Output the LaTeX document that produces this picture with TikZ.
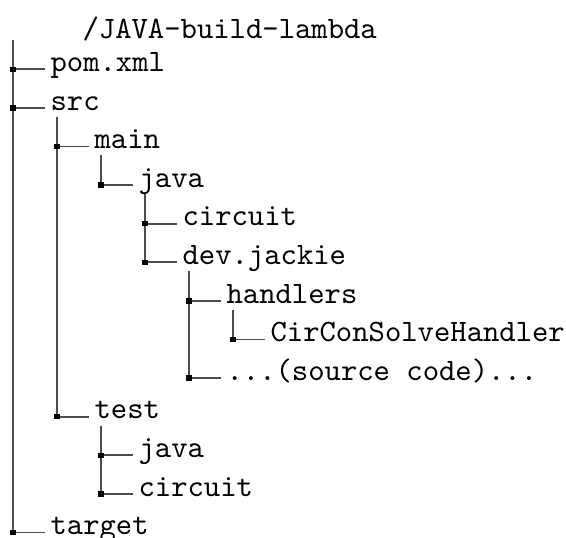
\documentclass[tikz,border=0pt]{standalone}
\begin{document}
\begin{tikzpicture}[x=0.326pt, y=-0.326pt,
  entry/.style={anchor=base west, inner xsep=1.63pt, inner ysep=0pt,
    font=\fontsize{10.15pt}{12pt}\selectfont\ttfamily},
  branch/.style={draw=black!70, line width=0.55pt},
  joint/.style={fill=black}]
\useasboundingbox (0,0) rectangle (566,538);

% joints of the tree (one per entry)
\coordinate (pom-j)     at (13, 69.3);
\coordinate (src-j)     at (13,107.9);
\coordinate (main-j)    at (57,146.5);
\coordinate (mjava-j)   at (101,185.1);
\coordinate (circ-j)    at (145,223.7);
\coordinate (dev-j)     at (145,262.3);
\coordinate (hand-j)    at (189,300.9);
\coordinate (ccs-j)     at (233,339.5);
\coordinate (code-j)    at (189,378.1);
\coordinate (test-j)    at (57,416.7);
\coordinate (tjava-j)   at (101,455.3);
\coordinate (tcirc-j)   at (101,493.9);
\coordinate (target-j)  at (13,532.5);

% tops of the vertical rules
\coordinate (root-top)  at (13,40);
\coordinate (src-top)   at (57,117);
\coordinate (main-top)  at (101,155.5);
\coordinate (mjava-top) at (145,194);
\coordinate (dev-top)   at (189,271);
\coordinate (hand-top)  at (233,309.7);
\coordinate (test-top)  at (101,425.7);

% entries
\node[entry] (root)   at (77,38.2)   {/JAVA-build-lambda};
\node[entry] (pom)    at (45,71.5)   {pom.xml};
\node[entry] (src)    at (45,110.1)  {src};
\node[entry] (main)   at (89,148.7)  {main};
\node[entry] (mjava)  at (133,187.3) {java};
\node[entry] (circ)   at (177,225.9) {circuit};
\node[entry] (dev)    at (177,264.5) {dev.jackie};
\node[entry] (hand)   at (221,303.1) {handlers};
\node[entry] (ccs)    at (265,341.7) {CirConSolveHandler};
\node[entry] (code)   at (221,380.3) {...(source code)...};
\node[entry] (test)   at (89,418.9)  {test};
\node[entry] (tjava)  at (133,457.5) {java};
\node[entry] (tcirc)  at (133,496.1) {circuit};
\node[entry] (target) at (45,534.7)  {target};

% vertical rules
\draw[branch] (root-top)  -- (target-j);
\draw[branch] (src-top)   -- (test-j);
\draw[branch] (main-top)  -- (mjava-j);
\draw[branch] (mjava-top) -- (dev-j);
\draw[branch] (dev-top)   -- (code-j);
\draw[branch] (hand-top)  -- (ccs-j);
\draw[branch] (test-top)  -- (tcirc-j);

% horizontal rules and joint marks
\foreach \n in {pom,src,main,mjava,circ,dev,hand,ccs,code,test,tjava,tcirc,target}{
  \draw[branch] (\n-j) -- (\n-j -| \n.west);
  \fill[joint] (\n-j) +(-2.7,-2.7) rectangle +(2.7,2.7);
}
\end{tikzpicture}
\end{document}
